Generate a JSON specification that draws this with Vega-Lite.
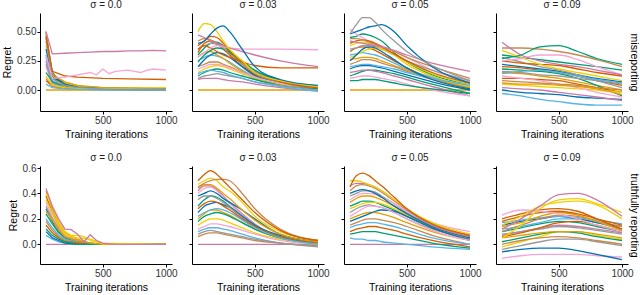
{
"$schema":"https://vega.github.io/schema/vega-lite/v6.json",
"padding":{"left":2,"top":0,"right":1,"bottom":2},
"config":{"font":"Liberation Sans","view":{"stroke":null},
"axis":{"grid":false,"domainColor":"#000","domainWidth":1,"tickColor":"#000","tickSize":3,"labelFontSize":10,"labelColor":"#333","titleFontSize":10.5,"titleFontWeight":"normal","titleColor":"#000","labelPadding":1,"titlePadding":4,"labelFlush":false},
"title":{"fontSize":10,"fontWeight":"normal","offset":3,"color":"#222"},
"line":{"strokeWidth":1.3}},
"datasets":{
"A":[
{"s":18,"x":50,"y":0},{"s":18,"x":500,"y":0},{"s":18,"x":1000,"y":0},
{"s":1,"x":50,"y":0.5},{"s":1,"x":100,"y":0.13},{"s":1,"x":150,"y":0.08},{"s":1,"x":200,"y":0.05},{"s":1,"x":300,"y":0.03},{"s":1,"x":500,"y":0.02},{"s":1,"x":1000,"y":0.01},
{"s":2,"x":50,"y":0.45},{"s":2,"x":100,"y":0.15},{"s":2,"x":150,"y":0.09},{"s":2,"x":200,"y":0.06},{"s":2,"x":300,"y":0.03},{"s":2,"x":500,"y":0.015},{"s":2,"x":1000,"y":0.01},
{"s":3,"x":50,"y":0.3},{"s":3,"x":100,"y":0.1},{"s":3,"x":150,"y":0.07},{"s":3,"x":200,"y":0.05},{"s":3,"x":300,"y":0.03},{"s":3,"x":500,"y":0.01},{"s":3,"x":1000,"y":0.005},
{"s":4,"x":50,"y":0.38},{"s":4,"x":100,"y":0.12},{"s":4,"x":150,"y":0.07},{"s":4,"x":200,"y":0.06},{"s":4,"x":300,"y":0.03},{"s":4,"x":500,"y":0.015},{"s":4,"x":1000,"y":0.01},
{"s":5,"x":50,"y":0.25},{"s":5,"x":100,"y":0.06},{"s":5,"x":150,"y":0.04},{"s":5,"x":200,"y":0.02},{"s":5,"x":300,"y":0.01},{"s":5,"x":500,"y":0.005},{"s":5,"x":1000,"y":0},
{"s":6,"x":50,"y":0.2},{"s":6,"x":100,"y":0.05},{"s":6,"x":150,"y":0.03},{"s":6,"x":200,"y":0.02},{"s":6,"x":300,"y":0.01},{"s":6,"x":500,"y":0.005},{"s":6,"x":1000,"y":0},
{"s":7,"x":50,"y":0.28},{"s":7,"x":100,"y":0.08},{"s":7,"x":150,"y":0.05},{"s":7,"x":200,"y":0.03},{"s":7,"x":300,"y":0.02},{"s":7,"x":500,"y":0.01},{"s":7,"x":1000,"y":0.005},
{"s":8,"x":50,"y":0.48},{"s":8,"x":100,"y":0.14},{"s":8,"x":150,"y":0.1},{"s":8,"x":200,"y":0.07},{"s":8,"x":300,"y":0.04},{"s":8,"x":500,"y":0.02},{"s":8,"x":1000,"y":0.015},
{"s":9,"x":50,"y":0.22},{"s":9,"x":100,"y":0.06},{"s":9,"x":150,"y":0.04},{"s":9,"x":200,"y":0.03},{"s":9,"x":300,"y":0.02},{"s":9,"x":500,"y":0.01},{"s":9,"x":1000,"y":0.005},
{"s":10,"x":50,"y":0.1},{"s":10,"x":100,"y":0.03},{"s":10,"x":150,"y":0.02},{"s":10,"x":200,"y":0.015},{"s":10,"x":300,"y":0.01},{"s":10,"x":500,"y":0.005},{"s":10,"x":1000,"y":0},
{"s":11,"x":50,"y":0.08},{"s":11,"x":100,"y":0.035},{"s":11,"x":150,"y":0.025},{"s":11,"x":200,"y":0.02},{"s":11,"x":300,"y":0.01},{"s":11,"x":500,"y":0.005},{"s":11,"x":1000,"y":0},
{"s":12,"x":50,"y":0.35},{"s":12,"x":100,"y":0.11},{"s":12,"x":150,"y":0.08},{"s":12,"x":200,"y":0.05},{"s":12,"x":300,"y":0.025},{"s":12,"x":500,"y":0.01},{"s":12,"x":1000,"y":0.005},
{"s":13,"x":50,"y":0.15},{"s":13,"x":100,"y":0.07},{"s":13,"x":150,"y":0.05},{"s":13,"x":200,"y":0.04},{"s":13,"x":300,"y":0.02},{"s":13,"x":500,"y":0.01},{"s":13,"x":1000,"y":0.005},
{"s":14,"x":50,"y":0.12},{"s":14,"x":100,"y":0.04},{"s":14,"x":150,"y":0.03},{"s":14,"x":200,"y":0.02},{"s":14,"x":300,"y":0.015},{"s":14,"x":500,"y":0.01},{"s":14,"x":1000,"y":0.02},
{"s":17,"x":50,"y":0.05},{"s":17,"x":100,"y":0.02},{"s":17,"x":150,"y":0.015},{"s":17,"x":200,"y":0.01},{"s":17,"x":300,"y":0.005},{"s":17,"x":500,"y":0},{"s":17,"x":1000,"y":0},
{"s":19,"x":50,"y":0.42},{"s":19,"x":100,"y":0.1},{"s":19,"x":150,"y":0.06},{"s":19,"x":200,"y":0.04},{"s":19,"x":300,"y":0.02},{"s":19,"x":500,"y":0.01},{"s":19,"x":1000,"y":0.008},
{"s":21,"x":50,"y":0.46},{"s":21,"x":100,"y":0.16},{"s":21,"x":150,"y":0.14},{"s":21,"x":200,"y":0.12},{"s":21,"x":300,"y":0.11},{"s":21,"x":500,"y":0.1},{"s":21,"x":700,"y":0.095},{"s":21,"x":1000,"y":0.09},
{"s":16,"x":50,"y":0.3},{"s":16,"x":100,"y":0.1},{"s":16,"x":200,"y":0.11},{"s":16,"x":300,"y":0.13},{"s":16,"x":400,"y":0.15},{"s":16,"x":450,"y":0.13},{"s":16,"x":500,"y":0.18},{"s":16,"x":550,"y":0.14},{"s":16,"x":600,"y":0.16},{"s":16,"x":700,"y":0.17},{"s":16,"x":750,"y":0.16},{"s":16,"x":800,"y":0.15},{"s":16,"x":850,"y":0.17},{"s":16,"x":900,"y":0.18},{"s":16,"x":1000,"y":0.17},
{"s":15,"x":50,"y":0.5},{"s":15,"x":100,"y":0.31},{"s":15,"x":200,"y":0.315},{"s":15,"x":300,"y":0.32},{"s":15,"x":400,"y":0.325},{"s":15,"x":500,"y":0.33},{"s":15,"x":600,"y":0.33},{"s":15,"x":700,"y":0.335},{"s":15,"x":800,"y":0.335},{"s":15,"x":900,"y":0.34},{"s":15,"x":1000,"y":0.335}
],
"B":[
{"s":18,"x":50,"y":0},{"s":18,"x":500,"y":0},{"s":18,"x":1000,"y":0},
{"s":3,"x":50,"y":0.3},{"s":3,"x":100,"y":0.36},{"s":3,"x":150,"y":0.4},{"s":3,"x":200,"y":0.41},{"s":3,"x":250,"y":0.38},{"s":3,"x":300,"y":0.33},{"s":3,"x":400,"y":0.22},{"s":3,"x":500,"y":0.13},{"s":3,"x":700,"y":0.06},{"s":3,"x":1000,"y":0.02},
{"s":9,"x":50,"y":0.35},{"s":9,"x":100,"y":0.38},{"s":9,"x":150,"y":0.4},{"s":9,"x":200,"y":0.39},{"s":9,"x":250,"y":0.36},{"s":9,"x":300,"y":0.32},{"s":9,"x":400,"y":0.24},{"s":9,"x":500,"y":0.16},{"s":9,"x":700,"y":0.08},{"s":9,"x":1000,"y":0.03},
{"s":11,"x":50,"y":0.32},{"s":11,"x":100,"y":0.4},{"s":11,"x":150,"y":0.42},{"s":11,"x":200,"y":0.4},{"s":11,"x":250,"y":0.35},{"s":11,"x":300,"y":0.3},{"s":11,"x":400,"y":0.2},{"s":11,"x":500,"y":0.12},{"s":11,"x":700,"y":0.05},{"s":11,"x":1000,"y":0.01},
{"s":7,"x":50,"y":0.25},{"s":7,"x":100,"y":0.28},{"s":7,"x":150,"y":0.3},{"s":7,"x":200,"y":0.29},{"s":7,"x":250,"y":0.27},{"s":7,"x":300,"y":0.24},{"s":7,"x":400,"y":0.17},{"s":7,"x":500,"y":0.11},{"s":7,"x":700,"y":0.05},{"s":7,"x":1000,"y":0.01},
{"s":8,"x":50,"y":0.28},{"s":8,"x":100,"y":0.32},{"s":8,"x":150,"y":0.33},{"s":8,"x":200,"y":0.3},{"s":8,"x":250,"y":0.27},{"s":8,"x":300,"y":0.23},{"s":8,"x":400,"y":0.16},{"s":8,"x":500,"y":0.1},{"s":8,"x":700,"y":0.05},{"s":8,"x":1000,"y":0},
{"s":10,"x":50,"y":0.2},{"s":10,"x":100,"y":0.22},{"s":10,"x":150,"y":0.24},{"s":10,"x":200,"y":0.24},{"s":10,"x":250,"y":0.22},{"s":10,"x":300,"y":0.2},{"s":10,"x":400,"y":0.15},{"s":10,"x":500,"y":0.1},{"s":10,"x":700,"y":0.05},{"s":10,"x":1000,"y":0.01},
{"s":12,"x":50,"y":0.2},{"s":12,"x":100,"y":0.26},{"s":12,"x":150,"y":0.3},{"s":12,"x":200,"y":0.32},{"s":12,"x":250,"y":0.31},{"s":12,"x":300,"y":0.28},{"s":12,"x":400,"y":0.2},{"s":12,"x":500,"y":0.13},{"s":12,"x":700,"y":0.06},{"s":12,"x":1000,"y":0.02},
{"s":14,"x":50,"y":0.15},{"s":14,"x":100,"y":0.18},{"s":14,"x":150,"y":0.2},{"s":14,"x":200,"y":0.21},{"s":14,"x":250,"y":0.2},{"s":14,"x":300,"y":0.18},{"s":14,"x":400,"y":0.14},{"s":14,"x":500,"y":0.1},{"s":14,"x":700,"y":0.05},{"s":14,"x":1000,"y":0},
{"s":16,"x":50,"y":0.18},{"s":16,"x":100,"y":0.2},{"s":16,"x":150,"y":0.22},{"s":16,"x":200,"y":0.22},{"s":16,"x":250,"y":0.21},{"s":16,"x":300,"y":0.19},{"s":16,"x":400,"y":0.15},{"s":16,"x":500,"y":0.11},{"s":16,"x":700,"y":0.06},{"s":16,"x":1000,"y":0.02},
{"s":13,"x":50,"y":0.12},{"s":13,"x":100,"y":0.15},{"s":13,"x":150,"y":0.17},{"s":13,"x":200,"y":0.18},{"s":13,"x":250,"y":0.17},{"s":13,"x":300,"y":0.15},{"s":13,"x":400,"y":0.12},{"s":13,"x":500,"y":0.09},{"s":13,"x":700,"y":0.04},{"s":13,"x":1000,"y":0.01},
{"s":19,"x":50,"y":0.1},{"s":19,"x":100,"y":0.12},{"s":19,"x":150,"y":0.13},{"s":19,"x":200,"y":0.14},{"s":19,"x":250,"y":0.13},{"s":19,"x":300,"y":0.12},{"s":19,"x":400,"y":0.1},{"s":19,"x":500,"y":0.07},{"s":19,"x":700,"y":0.04},{"s":19,"x":1000,"y":0},
{"s":15,"x":50,"y":0.09},{"s":15,"x":100,"y":0.1},{"s":15,"x":150,"y":0.1},{"s":15,"x":200,"y":0.1},{"s":15,"x":250,"y":0.09},{"s":15,"x":300,"y":0.08},{"s":15,"x":400,"y":0.07},{"s":15,"x":500,"y":0.05},{"s":15,"x":700,"y":0.02},{"s":15,"x":1000,"y":-0.01},
{"s":17,"x":50,"y":0.14},{"s":17,"x":100,"y":0.16},{"s":17,"x":150,"y":0.17},{"s":17,"x":200,"y":0.16},{"s":17,"x":250,"y":0.15},{"s":17,"x":300,"y":0.13},{"s":17,"x":400,"y":0.1},{"s":17,"x":500,"y":0.07},{"s":17,"x":700,"y":0.03},{"s":17,"x":1000,"y":-0.01},
{"s":23,"x":50,"y":0.24},{"s":23,"x":100,"y":0.3},{"s":23,"x":150,"y":0.34},{"s":23,"x":200,"y":0.36},{"s":23,"x":250,"y":0.35},{"s":23,"x":300,"y":0.32},{"s":23,"x":400,"y":0.25},{"s":23,"x":500,"y":0.17},{"s":23,"x":700,"y":0.08},{"s":23,"x":1000,"y":0.03},
{"s":20,"x":50,"y":0.42},{"s":20,"x":100,"y":0.44},{"s":20,"x":150,"y":0.43},{"s":20,"x":200,"y":0.4},{"s":20,"x":250,"y":0.36},{"s":20,"x":300,"y":0.31},{"s":20,"x":400,"y":0.22},{"s":20,"x":500,"y":0.14},{"s":20,"x":700,"y":0.07},{"s":20,"x":1000,"y":0.02},
{"s":21,"x":50,"y":0.38},{"s":21,"x":100,"y":0.42},{"s":21,"x":150,"y":0.46},{"s":21,"x":200,"y":0.45},{"s":21,"x":250,"y":0.4},{"s":21,"x":300,"y":0.34},{"s":21,"x":400,"y":0.24},{"s":21,"x":500,"y":0.15},{"s":21,"x":700,"y":0.07},{"s":21,"x":1000,"y":0.02},
{"s":1,"x":50,"y":0.35},{"s":1,"x":100,"y":0.38},{"s":1,"x":150,"y":0.36},{"s":1,"x":200,"y":0.33},{"s":1,"x":250,"y":0.3},{"s":1,"x":300,"y":0.28},{"s":1,"x":400,"y":0.24},{"s":1,"x":500,"y":0.21},{"s":1,"x":700,"y":0.19},{"s":1,"x":1000,"y":0.19},
{"s":6,"x":50,"y":0.28},{"s":6,"x":100,"y":0.32},{"s":6,"x":150,"y":0.36},{"s":6,"x":200,"y":0.38},{"s":6,"x":250,"y":0.37},{"s":6,"x":300,"y":0.36},{"s":6,"x":400,"y":0.35},{"s":6,"x":500,"y":0.35},{"s":6,"x":700,"y":0.35},{"s":6,"x":1000,"y":0.345},
{"s":5,"x":50,"y":0.47},{"s":5,"x":100,"y":0.45},{"s":5,"x":150,"y":0.42},{"s":5,"x":200,"y":0.4},{"s":5,"x":250,"y":0.38},{"s":5,"x":300,"y":0.36},{"s":5,"x":400,"y":0.33},{"s":5,"x":500,"y":0.3},{"s":5,"x":700,"y":0.25},{"s":5,"x":1000,"y":0.2},
{"s":4,"x":50,"y":0.5},{"s":4,"x":100,"y":0.57},{"s":4,"x":150,"y":0.56},{"s":4,"x":200,"y":0.5},{"s":4,"x":250,"y":0.42},{"s":4,"x":300,"y":0.35},{"s":4,"x":400,"y":0.25},{"s":4,"x":500,"y":0.15},{"s":4,"x":700,"y":0.08},{"s":4,"x":1000,"y":0.03},
{"s":2,"x":50,"y":0.4},{"s":2,"x":100,"y":0.42},{"s":2,"x":150,"y":0.48},{"s":2,"x":200,"y":0.53},{"s":2,"x":250,"y":0.55},{"s":2,"x":300,"y":0.5},{"s":2,"x":400,"y":0.35},{"s":2,"x":500,"y":0.2},{"s":2,"x":700,"y":0.09},{"s":2,"x":1000,"y":0.04}
],
"C":[
{"s":18,"x":50,"y":0},{"s":18,"x":500,"y":0},{"s":18,"x":1000,"y":0},
{"s":3,"x":50,"y":0.45},{"s":3,"x":100,"y":0.46},{"s":3,"x":150,"y":0.48},{"s":3,"x":200,"y":0.47},{"s":3,"x":250,"y":0.45},{"s":3,"x":300,"y":0.42},{"s":3,"x":400,"y":0.32},{"s":3,"x":500,"y":0.24},{"s":3,"x":700,"y":0.13},{"s":3,"x":1000,"y":0.05},
{"s":6,"x":50,"y":0.52},{"s":6,"x":100,"y":0.48},{"s":6,"x":150,"y":0.45},{"s":6,"x":200,"y":0.42},{"s":6,"x":250,"y":0.4},{"s":6,"x":300,"y":0.38},{"s":6,"x":400,"y":0.33},{"s":6,"x":500,"y":0.28},{"s":6,"x":700,"y":0.17},{"s":6,"x":1000,"y":0.07},
{"s":4,"x":50,"y":0.38},{"s":4,"x":100,"y":0.4},{"s":4,"x":150,"y":0.41},{"s":4,"x":200,"y":0.4},{"s":4,"x":250,"y":0.38},{"s":4,"x":300,"y":0.36},{"s":4,"x":400,"y":0.3},{"s":4,"x":500,"y":0.24},{"s":4,"x":700,"y":0.14},{"s":4,"x":1000,"y":0.05},
{"s":1,"x":50,"y":0.33},{"s":1,"x":100,"y":0.36},{"s":1,"x":150,"y":0.37},{"s":1,"x":200,"y":0.36},{"s":1,"x":250,"y":0.34},{"s":1,"x":300,"y":0.31},{"s":1,"x":400,"y":0.25},{"s":1,"x":500,"y":0.19},{"s":1,"x":700,"y":0.1},{"s":1,"x":1000,"y":0.02},
{"s":7,"x":50,"y":0.3},{"s":7,"x":100,"y":0.31},{"s":7,"x":150,"y":0.32},{"s":7,"x":200,"y":0.31},{"s":7,"x":250,"y":0.3},{"s":7,"x":300,"y":0.28},{"s":7,"x":400,"y":0.23},{"s":7,"x":500,"y":0.18},{"s":7,"x":700,"y":0.11},{"s":7,"x":1000,"y":0.03},
{"s":8,"x":50,"y":0.26},{"s":8,"x":100,"y":0.27},{"s":8,"x":150,"y":0.28},{"s":8,"x":200,"y":0.28},{"s":8,"x":250,"y":0.27},{"s":8,"x":300,"y":0.25},{"s":8,"x":400,"y":0.21},{"s":8,"x":500,"y":0.17},{"s":8,"x":700,"y":0.1},{"s":8,"x":1000,"y":0.02},
{"s":10,"x":50,"y":0.22},{"s":10,"x":100,"y":0.24},{"s":10,"x":150,"y":0.26},{"s":10,"x":200,"y":0.26},{"s":10,"x":250,"y":0.25},{"s":10,"x":300,"y":0.23},{"s":10,"x":400,"y":0.2},{"s":10,"x":500,"y":0.16},{"s":10,"x":700,"y":0.09},{"s":10,"x":1000,"y":0},
{"s":12,"x":50,"y":0.18},{"s":12,"x":100,"y":0.2},{"s":12,"x":150,"y":0.21},{"s":12,"x":200,"y":0.21},{"s":12,"x":250,"y":0.2},{"s":12,"x":300,"y":0.19},{"s":12,"x":400,"y":0.16},{"s":12,"x":500,"y":0.13},{"s":12,"x":700,"y":0.07},{"s":12,"x":1000,"y":0},
{"s":13,"x":50,"y":0.12},{"s":13,"x":100,"y":0.14},{"s":13,"x":150,"y":0.16},{"s":13,"x":200,"y":0.17},{"s":13,"x":250,"y":0.17},{"s":13,"x":300,"y":0.16},{"s":13,"x":400,"y":0.14},{"s":13,"x":500,"y":0.11},{"s":13,"x":700,"y":0.05},{"s":13,"x":1000,"y":-0.03},
{"s":19,"x":50,"y":0.35},{"s":19,"x":100,"y":0.36},{"s":19,"x":150,"y":0.38},{"s":19,"x":200,"y":0.38},{"s":19,"x":250,"y":0.37},{"s":19,"x":300,"y":0.35},{"s":19,"x":400,"y":0.3},{"s":19,"x":500,"y":0.25},{"s":19,"x":700,"y":0.17},{"s":19,"x":1000,"y":0.08},
{"s":15,"x":50,"y":0.15},{"s":15,"x":100,"y":0.16},{"s":15,"x":150,"y":0.17},{"s":15,"x":200,"y":0.17},{"s":15,"x":250,"y":0.16},{"s":15,"x":300,"y":0.15},{"s":15,"x":400,"y":0.12},{"s":15,"x":500,"y":0.09},{"s":15,"x":700,"y":0.03},{"s":15,"x":1000,"y":-0.05},
{"s":16,"x":50,"y":0.1},{"s":16,"x":100,"y":0.11},{"s":16,"x":150,"y":0.12},{"s":16,"x":200,"y":0.12},{"s":16,"x":250,"y":0.11},{"s":16,"x":300,"y":0.1},{"s":16,"x":400,"y":0.08},{"s":16,"x":500,"y":0.05},{"s":16,"x":700,"y":0},{"s":16,"x":1000,"y":-0.05},
{"s":14,"x":50,"y":0.28},{"s":14,"x":100,"y":0.3},{"s":14,"x":150,"y":0.33},{"s":14,"x":200,"y":0.35},{"s":14,"x":250,"y":0.36},{"s":14,"x":300,"y":0.35},{"s":14,"x":400,"y":0.3},{"s":14,"x":500,"y":0.22},{"s":14,"x":700,"y":0.12},{"s":14,"x":1000,"y":0.03},
{"s":11,"x":50,"y":0.4},{"s":11,"x":100,"y":0.42},{"s":11,"x":150,"y":0.43},{"s":11,"x":200,"y":0.42},{"s":11,"x":250,"y":0.4},{"s":11,"x":300,"y":0.37},{"s":11,"x":400,"y":0.31},{"s":11,"x":500,"y":0.25},{"s":11,"x":700,"y":0.15},{"s":11,"x":1000,"y":0.06},
{"s":17,"x":50,"y":0.2},{"s":17,"x":100,"y":0.21},{"s":17,"x":150,"y":0.22},{"s":17,"x":200,"y":0.22},{"s":17,"x":250,"y":0.21},{"s":17,"x":300,"y":0.2},{"s":17,"x":400,"y":0.18},{"s":17,"x":500,"y":0.15},{"s":17,"x":700,"y":0.1},{"s":17,"x":1000,"y":0.04},
{"s":23,"x":50,"y":0.08},{"s":23,"x":100,"y":0.08},{"s":23,"x":150,"y":0.09},{"s":23,"x":200,"y":0.09},{"s":23,"x":250,"y":0.09},{"s":23,"x":300,"y":0.08},{"s":23,"x":400,"y":0.06},{"s":23,"x":500,"y":0.04},{"s":23,"x":700,"y":0.01},{"s":23,"x":1000,"y":-0.03},
{"s":22,"x":50,"y":0.25},{"s":22,"x":100,"y":0.3},{"s":22,"x":150,"y":0.35},{"s":22,"x":200,"y":0.37},{"s":22,"x":250,"y":0.36},{"s":22,"x":300,"y":0.33},{"s":22,"x":400,"y":0.26},{"s":22,"x":500,"y":0.19},{"s":22,"x":700,"y":0.09},{"s":22,"x":1000,"y":0.01},
{"s":20,"x":50,"y":0.44},{"s":20,"x":100,"y":0.44},{"s":20,"x":150,"y":0.43},{"s":20,"x":200,"y":0.41},{"s":20,"x":250,"y":0.39},{"s":20,"x":300,"y":0.37},{"s":20,"x":400,"y":0.33},{"s":20,"x":500,"y":0.28},{"s":20,"x":700,"y":0.2},{"s":20,"x":1000,"y":0.1},
{"s":5,"x":50,"y":0.42},{"s":5,"x":100,"y":0.41},{"s":5,"x":150,"y":0.4},{"s":5,"x":200,"y":0.39},{"s":5,"x":250,"y":0.38},{"s":5,"x":300,"y":0.37},{"s":5,"x":400,"y":0.34},{"s":5,"x":500,"y":0.3},{"s":5,"x":700,"y":0.23},{"s":5,"x":1000,"y":0.16},
{"s":2,"x":50,"y":0.48},{"s":2,"x":100,"y":0.5},{"s":2,"x":150,"y":0.52},{"s":2,"x":200,"y":0.54},{"s":2,"x":250,"y":0.55},{"s":2,"x":300,"y":0.56},{"s":2,"x":400,"y":0.5},{"s":2,"x":500,"y":0.38},{"s":2,"x":700,"y":0.2},{"s":2,"x":1000,"y":0.06},
{"s":9,"x":50,"y":0.48},{"s":9,"x":100,"y":0.56},{"s":9,"x":150,"y":0.62},{"s":9,"x":200,"y":0.62},{"s":9,"x":250,"y":0.58},{"s":9,"x":300,"y":0.52},{"s":9,"x":400,"y":0.42},{"s":9,"x":500,"y":0.33},{"s":9,"x":700,"y":0.21},{"s":9,"x":1000,"y":0.08}
],
"D":[
{"s":7,"x":50,"y":-0.03},{"s":7,"x":200,"y":-0.05},{"s":7,"x":350,"y":-0.08},{"s":7,"x":500,"y":-0.1},{"s":7,"x":650,"y":-0.12},{"s":7,"x":800,"y":-0.13},{"s":7,"x":1000,"y":-0.13},
{"s":2,"x":50,"y":0.22},{"s":2,"x":200,"y":0.2},{"s":2,"x":350,"y":0.18},{"s":2,"x":500,"y":0.16},{"s":2,"x":650,"y":0.13},{"s":2,"x":800,"y":0.1},{"s":2,"x":1000,"y":0.07},
{"s":1,"x":50,"y":0.2},{"s":1,"x":200,"y":0.19},{"s":1,"x":350,"y":0.17},{"s":1,"x":500,"y":0.15},{"s":1,"x":650,"y":0.12},{"s":1,"x":800,"y":0.08},{"s":1,"x":1000,"y":0.04},
{"s":9,"x":50,"y":0.28},{"s":9,"x":200,"y":0.24},{"s":9,"x":350,"y":0.2},{"s":9,"x":500,"y":0.17},{"s":9,"x":650,"y":0.13},{"s":9,"x":800,"y":0.08},{"s":9,"x":1000,"y":0.02},
{"s":8,"x":50,"y":0.15},{"s":8,"x":200,"y":0.14},{"s":8,"x":350,"y":0.12},{"s":8,"x":500,"y":0.1},{"s":8,"x":650,"y":0.07},{"s":8,"x":800,"y":0.04},{"s":8,"x":1000,"y":0},
{"s":13,"x":50,"y":0.18},{"s":13,"x":200,"y":0.17},{"s":13,"x":350,"y":0.16},{"s":13,"x":500,"y":0.14},{"s":13,"x":650,"y":0.1},{"s":13,"x":800,"y":0.04},{"s":13,"x":1000,"y":-0.05},
{"s":12,"x":50,"y":0},{"s":12,"x":200,"y":-0.02},{"s":12,"x":350,"y":-0.03},{"s":12,"x":500,"y":-0.04},{"s":12,"x":650,"y":-0.06},{"s":12,"x":800,"y":-0.07},{"s":12,"x":1000,"y":-0.08},
{"s":11,"x":50,"y":0.1},{"s":11,"x":200,"y":0.1},{"s":11,"x":350,"y":0.09},{"s":11,"x":500,"y":0.08},{"s":11,"x":650,"y":0.05},{"s":11,"x":800,"y":0.02},{"s":11,"x":1000,"y":-0.02},
{"s":14,"x":50,"y":0.05},{"s":14,"x":200,"y":0.04},{"s":14,"x":350,"y":0.03},{"s":14,"x":500,"y":0.02},{"s":14,"x":650,"y":0.01},{"s":14,"x":800,"y":0},{"s":14,"x":1000,"y":-0.02},
{"s":16,"x":50,"y":0.12},{"s":16,"x":200,"y":0.1},{"s":16,"x":350,"y":0.08},{"s":16,"x":500,"y":0.05},{"s":16,"x":650,"y":0.02},{"s":16,"x":800,"y":-0.02},{"s":16,"x":1000,"y":-0.06},
{"s":20,"x":50,"y":0.08},{"s":20,"x":200,"y":0.07},{"s":20,"x":350,"y":0.06},{"s":20,"x":500,"y":0.05},{"s":20,"x":650,"y":0.04},{"s":20,"x":800,"y":0.02},{"s":20,"x":1000,"y":0},
{"s":17,"x":50,"y":0.14},{"s":17,"x":200,"y":0.16},{"s":17,"x":350,"y":0.17},{"s":17,"x":500,"y":0.15},{"s":17,"x":650,"y":0.12},{"s":17,"x":800,"y":0.09},{"s":17,"x":1000,"y":0.06},
{"s":15,"x":50,"y":0.02},{"s":15,"x":200,"y":0.01},{"s":15,"x":350,"y":0},{"s":15,"x":500,"y":-0.02},{"s":15,"x":650,"y":-0.04},{"s":15,"x":800,"y":-0.06},{"s":15,"x":1000,"y":-0.09},
{"s":19,"x":50,"y":0.16},{"s":19,"x":200,"y":0.15},{"s":19,"x":350,"y":0.13},{"s":19,"x":500,"y":0.12},{"s":19,"x":650,"y":0.1},{"s":19,"x":800,"y":0.08},{"s":19,"x":1000,"y":0.05},
{"s":23,"x":50,"y":0.3},{"s":23,"x":200,"y":0.28},{"s":23,"x":350,"y":0.26},{"s":23,"x":500,"y":0.24},{"s":23,"x":650,"y":0.22},{"s":23,"x":800,"y":0.2},{"s":23,"x":1000,"y":0.17},
{"s":21,"x":50,"y":0.25},{"s":21,"x":200,"y":0.23},{"s":21,"x":350,"y":0.22},{"s":21,"x":500,"y":0.21},{"s":21,"x":650,"y":0.18},{"s":21,"x":800,"y":0.15},{"s":21,"x":1000,"y":0.12},
{"s":18,"x":50,"y":0.06},{"s":18,"x":200,"y":0.05},{"s":18,"x":350,"y":0.05},{"s":18,"x":500,"y":0.04},{"s":18,"x":650,"y":0.03},{"s":18,"x":800,"y":0.01},{"s":18,"x":1000,"y":-0.04},
{"s":4,"x":50,"y":0.34},{"s":4,"x":200,"y":0.28},{"s":4,"x":350,"y":0.22},{"s":4,"x":500,"y":0.18},{"s":4,"x":650,"y":0.15},{"s":4,"x":800,"y":0.12},{"s":4,"x":1000,"y":0.08},
{"s":6,"x":50,"y":0.25},{"s":6,"x":200,"y":0.27},{"s":6,"x":350,"y":0.3},{"s":6,"x":500,"y":0.3},{"s":6,"x":650,"y":0.26},{"s":6,"x":800,"y":0.2},{"s":6,"x":1000,"y":0.13},
{"s":10,"x":50,"y":0.36},{"s":10,"x":200,"y":0.36},{"s":10,"x":350,"y":0.35},{"s":10,"x":500,"y":0.33},{"s":10,"x":650,"y":0.3},{"s":10,"x":800,"y":0.26},{"s":10,"x":1000,"y":0.2},
{"s":5,"x":50,"y":0.41},{"s":5,"x":200,"y":0.3},{"s":5,"x":350,"y":0.25},{"s":5,"x":500,"y":0.22},{"s":5,"x":650,"y":0.2},{"s":5,"x":800,"y":0.17},{"s":5,"x":1000,"y":0.13},
{"s":3,"x":50,"y":0.27},{"s":3,"x":200,"y":0.3},{"s":3,"x":350,"y":0.37},{"s":3,"x":500,"y":0.38},{"s":3,"x":650,"y":0.33},{"s":3,"x":800,"y":0.27},{"s":3,"x":1000,"y":0.22}
],
"E":[
{"s":15,"x":50,"y":0},{"s":15,"x":500,"y":0},{"s":15,"x":1000,"y":0},
{"s":1,"x":50,"y":0.38},{"s":1,"x":100,"y":0.25},{"s":1,"x":150,"y":0.14},{"s":1,"x":200,"y":0.07},{"s":1,"x":300,"y":0.03},{"s":1,"x":400,"y":0.01},{"s":1,"x":500,"y":0},{"s":1,"x":1000,"y":0},
{"s":8,"x":50,"y":0.42},{"s":8,"x":100,"y":0.28},{"s":8,"x":150,"y":0.16},{"s":8,"x":200,"y":0.09},{"s":8,"x":300,"y":0.04},{"s":8,"x":400,"y":0.01},{"s":8,"x":500,"y":0},{"s":8,"x":1000,"y":0},
{"s":6,"x":50,"y":0.33},{"s":6,"x":100,"y":0.22},{"s":6,"x":150,"y":0.13},{"s":6,"x":200,"y":0.07},{"s":6,"x":300,"y":0.03},{"s":6,"x":400,"y":0.01},{"s":6,"x":500,"y":0},{"s":6,"x":1000,"y":0},
{"s":2,"x":50,"y":0.28},{"s":2,"x":100,"y":0.18},{"s":2,"x":150,"y":0.1},{"s":2,"x":200,"y":0.05},{"s":2,"x":300,"y":0.02},{"s":2,"x":400,"y":0},{"s":2,"x":500,"y":0},{"s":2,"x":1000,"y":0},
{"s":3,"x":50,"y":0.24},{"s":3,"x":100,"y":0.16},{"s":3,"x":150,"y":0.09},{"s":3,"x":200,"y":0.05},{"s":3,"x":300,"y":0.02},{"s":3,"x":400,"y":0.01},{"s":3,"x":500,"y":0},{"s":3,"x":1000,"y":0},
{"s":7,"x":50,"y":0.2},{"s":7,"x":100,"y":0.13},{"s":7,"x":150,"y":0.07},{"s":7,"x":200,"y":0.04},{"s":7,"x":300,"y":0.01},{"s":7,"x":400,"y":0},{"s":7,"x":500,"y":0},{"s":7,"x":1000,"y":0},
{"s":9,"x":50,"y":0.3},{"s":9,"x":100,"y":0.2},{"s":9,"x":150,"y":0.12},{"s":9,"x":200,"y":0.06},{"s":9,"x":300,"y":0.02},{"s":9,"x":400,"y":0},{"s":9,"x":500,"y":0},{"s":9,"x":1000,"y":0},
{"s":10,"x":50,"y":0.18},{"s":10,"x":100,"y":0.11},{"s":10,"x":150,"y":0.06},{"s":10,"x":200,"y":0.03},{"s":10,"x":300,"y":0.01},{"s":10,"x":400,"y":0},{"s":10,"x":500,"y":0},{"s":10,"x":1000,"y":0},
{"s":17,"x":50,"y":0.07},{"s":17,"x":100,"y":0.04},{"s":17,"x":150,"y":0.02},{"s":17,"x":200,"y":0.01},{"s":17,"x":300,"y":0},{"s":17,"x":400,"y":0},{"s":17,"x":500,"y":0},{"s":17,"x":1000,"y":0},
{"s":12,"x":50,"y":0.1},{"s":12,"x":100,"y":0.05},{"s":12,"x":150,"y":0.03},{"s":12,"x":200,"y":0.01},{"s":12,"x":300,"y":0},{"s":12,"x":400,"y":0},{"s":12,"x":500,"y":0},{"s":12,"x":1000,"y":0},
{"s":11,"x":50,"y":0.15},{"s":11,"x":100,"y":0.09},{"s":11,"x":150,"y":0.05},{"s":11,"x":200,"y":0.02},{"s":11,"x":300,"y":0.01},{"s":11,"x":400,"y":0},{"s":11,"x":500,"y":0},{"s":11,"x":1000,"y":0},
{"s":13,"x":50,"y":0.12},{"s":13,"x":100,"y":0.07},{"s":13,"x":150,"y":0.04},{"s":13,"x":200,"y":0.02},{"s":13,"x":300,"y":0},{"s":13,"x":400,"y":0},{"s":13,"x":500,"y":0},{"s":13,"x":1000,"y":0},
{"s":18,"x":50,"y":0.26},{"s":18,"x":100,"y":0.19},{"s":18,"x":150,"y":0.11},{"s":18,"x":200,"y":0.06},{"s":18,"x":300,"y":0.03},{"s":18,"x":400,"y":0.01},{"s":18,"x":500,"y":0},{"s":18,"x":1000,"y":0},
{"s":14,"x":50,"y":0.35},{"s":14,"x":100,"y":0.25},{"s":14,"x":150,"y":0.15},{"s":14,"x":200,"y":0.08},{"s":14,"x":250,"y":0.06},{"s":14,"x":300,"y":0.05},{"s":14,"x":400,"y":0.04},{"s":14,"x":500,"y":0.01},{"s":14,"x":1000,"y":0},
{"s":4,"x":50,"y":0.4},{"s":4,"x":100,"y":0.3},{"s":4,"x":150,"y":0.18},{"s":4,"x":200,"y":0.1},{"s":4,"x":250,"y":0.07},{"s":4,"x":300,"y":0.07},{"s":4,"x":350,"y":0.06},{"s":4,"x":400,"y":0.03},{"s":4,"x":500,"y":0.005},{"s":4,"x":1000,"y":0},
{"s":5,"x":50,"y":0.44},{"s":5,"x":100,"y":0.3},{"s":5,"x":150,"y":0.2},{"s":5,"x":200,"y":0.12},{"s":5,"x":250,"y":0.115},{"s":5,"x":300,"y":0.08},{"s":5,"x":350,"y":0.02},{"s":5,"x":400,"y":0.075},{"s":5,"x":450,"y":0.03},{"s":5,"x":500,"y":0.01},{"s":5,"x":600,"y":0},{"s":5,"x":1000,"y":0}
],
"F":[
{"s":15,"x":50,"y":0},{"s":15,"x":500,"y":0},{"s":15,"x":1000,"y":0},
{"s":5,"x":50,"y":0.42},{"s":5,"x":100,"y":0.46},{"s":5,"x":150,"y":0.46},{"s":5,"x":200,"y":0.43},{"s":5,"x":250,"y":0.38},{"s":5,"x":300,"y":0.33},{"s":5,"x":400,"y":0.24},{"s":5,"x":500,"y":0.16},{"s":5,"x":700,"y":0.06},{"s":5,"x":1000,"y":0.02},
{"s":6,"x":50,"y":0.4},{"s":6,"x":100,"y":0.44},{"s":6,"x":150,"y":0.45},{"s":6,"x":200,"y":0.42},{"s":6,"x":250,"y":0.37},{"s":6,"x":300,"y":0.32},{"s":6,"x":400,"y":0.23},{"s":6,"x":500,"y":0.15},{"s":6,"x":700,"y":0.06},{"s":6,"x":1000,"y":0.01},
{"s":3,"x":50,"y":0.3},{"s":3,"x":100,"y":0.35},{"s":3,"x":150,"y":0.38},{"s":3,"x":200,"y":0.37},{"s":3,"x":250,"y":0.34},{"s":3,"x":300,"y":0.3},{"s":3,"x":400,"y":0.22},{"s":3,"x":500,"y":0.15},{"s":3,"x":700,"y":0.06},{"s":3,"x":1000,"y":0.01},
{"s":2,"x":50,"y":0.25},{"s":2,"x":100,"y":0.3},{"s":2,"x":150,"y":0.32},{"s":2,"x":200,"y":0.33},{"s":2,"x":250,"y":0.31},{"s":2,"x":300,"y":0.29},{"s":2,"x":400,"y":0.22},{"s":2,"x":500,"y":0.15},{"s":2,"x":700,"y":0.07},{"s":2,"x":1000,"y":0.02},
{"s":9,"x":50,"y":0.35},{"s":9,"x":100,"y":0.38},{"s":9,"x":150,"y":0.38},{"s":9,"x":200,"y":0.36},{"s":9,"x":250,"y":0.33},{"s":9,"x":300,"y":0.29},{"s":9,"x":400,"y":0.21},{"s":9,"x":500,"y":0.14},{"s":9,"x":700,"y":0.06},{"s":9,"x":1000,"y":0.01},
{"s":8,"x":50,"y":0.2},{"s":8,"x":100,"y":0.24},{"s":8,"x":150,"y":0.27},{"s":8,"x":200,"y":0.27},{"s":8,"x":250,"y":0.25},{"s":8,"x":300,"y":0.23},{"s":8,"x":400,"y":0.17},{"s":8,"x":500,"y":0.12},{"s":8,"x":700,"y":0.05},{"s":8,"x":1000,"y":0},
{"s":7,"x":50,"y":0.1},{"s":7,"x":100,"y":0.12},{"s":7,"x":150,"y":0.13},{"s":7,"x":200,"y":0.13},{"s":7,"x":250,"y":0.12},{"s":7,"x":300,"y":0.11},{"s":7,"x":400,"y":0.08},{"s":7,"x":500,"y":0.05},{"s":7,"x":700,"y":0.01},{"s":7,"x":1000,"y":-0.01},
{"s":11,"x":50,"y":0.28},{"s":11,"x":100,"y":0.32},{"s":11,"x":150,"y":0.34},{"s":11,"x":200,"y":0.33},{"s":11,"x":250,"y":0.3},{"s":11,"x":300,"y":0.27},{"s":11,"x":400,"y":0.2},{"s":11,"x":500,"y":0.14},{"s":11,"x":700,"y":0.06},{"s":11,"x":1000,"y":0.01},
{"s":14,"x":50,"y":0.15},{"s":14,"x":100,"y":0.18},{"s":14,"x":150,"y":0.2},{"s":14,"x":200,"y":0.2},{"s":14,"x":250,"y":0.19},{"s":14,"x":300,"y":0.17},{"s":14,"x":400,"y":0.13},{"s":14,"x":500,"y":0.09},{"s":14,"x":700,"y":0.04},{"s":14,"x":1000,"y":0},
{"s":20,"x":50,"y":0.06},{"s":20,"x":100,"y":0.08},{"s":20,"x":150,"y":0.09},{"s":20,"x":200,"y":0.09},{"s":20,"x":250,"y":0.08},{"s":20,"x":300,"y":0.07},{"s":20,"x":400,"y":0.05},{"s":20,"x":500,"y":0.03},{"s":20,"x":700,"y":0.01},{"s":20,"x":1000,"y":-0.01},
{"s":13,"x":50,"y":0.18},{"s":13,"x":100,"y":0.22},{"s":13,"x":150,"y":0.24},{"s":13,"x":200,"y":0.25},{"s":13,"x":250,"y":0.24},{"s":13,"x":300,"y":0.22},{"s":13,"x":400,"y":0.17},{"s":13,"x":500,"y":0.12},{"s":13,"x":700,"y":0.05},{"s":13,"x":1000,"y":0},
{"s":16,"x":50,"y":0.12},{"s":16,"x":100,"y":0.14},{"s":16,"x":150,"y":0.16},{"s":16,"x":200,"y":0.16},{"s":16,"x":250,"y":0.15},{"s":16,"x":300,"y":0.14},{"s":16,"x":400,"y":0.11},{"s":16,"x":500,"y":0.08},{"s":16,"x":700,"y":0.03},{"s":16,"x":1000,"y":0},
{"s":12,"x":50,"y":0.38},{"s":12,"x":100,"y":0.4},{"s":12,"x":150,"y":0.42},{"s":12,"x":200,"y":0.4},{"s":12,"x":250,"y":0.36},{"s":12,"x":300,"y":0.33},{"s":12,"x":400,"y":0.27},{"s":12,"x":500,"y":0.2},{"s":12,"x":700,"y":0.08},{"s":12,"x":1000,"y":0.02},
{"s":19,"x":50,"y":0.08},{"s":19,"x":100,"y":0.1},{"s":19,"x":150,"y":0.11},{"s":19,"x":200,"y":0.1},{"s":19,"x":250,"y":0.09},{"s":19,"x":300,"y":0.08},{"s":19,"x":400,"y":0.06},{"s":19,"x":500,"y":0.04},{"s":19,"x":700,"y":0.01},{"s":19,"x":1000,"y":-0.02},
{"s":18,"x":50,"y":0.44},{"s":18,"x":100,"y":0.47},{"s":18,"x":150,"y":0.47},{"s":18,"x":200,"y":0.44},{"s":18,"x":250,"y":0.4},{"s":18,"x":300,"y":0.36},{"s":18,"x":400,"y":0.27},{"s":18,"x":500,"y":0.19},{"s":18,"x":700,"y":0.08},{"s":18,"x":1000,"y":0.02},
{"s":17,"x":50,"y":0.22},{"s":17,"x":100,"y":0.25},{"s":17,"x":150,"y":0.27},{"s":17,"x":200,"y":0.28},{"s":17,"x":250,"y":0.27},{"s":17,"x":300,"y":0.25},{"s":17,"x":400,"y":0.19},{"s":17,"x":500,"y":0.13},{"s":17,"x":700,"y":0.05},{"s":17,"x":1000,"y":0},
{"s":4,"x":50,"y":0.47},{"s":4,"x":100,"y":0.5},{"s":4,"x":150,"y":0.52},{"s":4,"x":200,"y":0.5},{"s":4,"x":250,"y":0.45},{"s":4,"x":300,"y":0.42},{"s":4,"x":400,"y":0.33},{"s":4,"x":500,"y":0.22},{"s":4,"x":700,"y":0.1},{"s":4,"x":1000,"y":0.03},
{"s":10,"x":50,"y":0.45},{"s":10,"x":100,"y":0.48},{"s":10,"x":150,"y":0.5},{"s":10,"x":200,"y":0.51},{"s":10,"x":250,"y":0.51},{"s":10,"x":300,"y":0.5},{"s":10,"x":400,"y":0.4},{"s":10,"x":500,"y":0.28},{"s":10,"x":700,"y":0.12},{"s":10,"x":1000,"y":0.03},
{"s":1,"x":50,"y":0.5},{"s":1,"x":100,"y":0.55},{"s":1,"x":150,"y":0.58},{"s":1,"x":200,"y":0.55},{"s":1,"x":250,"y":0.5},{"s":1,"x":300,"y":0.45},{"s":1,"x":400,"y":0.35},{"s":1,"x":500,"y":0.25},{"s":1,"x":700,"y":0.11},{"s":1,"x":1000,"y":0.03}
],
"G":[
{"s":15,"x":50,"y":0},{"s":15,"x":500,"y":0},{"s":15,"x":1000,"y":0},
{"s":7,"x":50,"y":0.05},{"s":7,"x":100,"y":0.04},{"s":7,"x":150,"y":0.04},{"s":7,"x":200,"y":0.03},{"s":7,"x":250,"y":0.03},{"s":7,"x":300,"y":0.02},{"s":7,"x":400,"y":0.01},{"s":7,"x":500,"y":0},{"s":7,"x":700,"y":-0.02},{"s":7,"x":1000,"y":-0.04},
{"s":3,"x":50,"y":0.3},{"s":3,"x":100,"y":0.32},{"s":3,"x":150,"y":0.34},{"s":3,"x":200,"y":0.34},{"s":3,"x":250,"y":0.33},{"s":3,"x":300,"y":0.31},{"s":3,"x":400,"y":0.27},{"s":3,"x":500,"y":0.22},{"s":3,"x":700,"y":0.13},{"s":3,"x":1000,"y":0.04},
{"s":9,"x":50,"y":0.25},{"s":9,"x":100,"y":0.28},{"s":9,"x":150,"y":0.3},{"s":9,"x":200,"y":0.31},{"s":9,"x":250,"y":0.3},{"s":9,"x":300,"y":0.29},{"s":9,"x":400,"y":0.25},{"s":9,"x":500,"y":0.2},{"s":9,"x":700,"y":0.12},{"s":9,"x":1000,"y":0.05},
{"s":8,"x":50,"y":0.2},{"s":8,"x":100,"y":0.22},{"s":8,"x":150,"y":0.24},{"s":8,"x":200,"y":0.25},{"s":8,"x":250,"y":0.25},{"s":8,"x":300,"y":0.24},{"s":8,"x":400,"y":0.21},{"s":8,"x":500,"y":0.17},{"s":8,"x":700,"y":0.1},{"s":8,"x":1000,"y":0.03},
{"s":10,"x":50,"y":0.15},{"s":10,"x":100,"y":0.17},{"s":10,"x":150,"y":0.19},{"s":10,"x":200,"y":0.2},{"s":10,"x":250,"y":0.2},{"s":10,"x":300,"y":0.19},{"s":10,"x":400,"y":0.17},{"s":10,"x":500,"y":0.14},{"s":10,"x":700,"y":0.07},{"s":10,"x":1000,"y":0},
{"s":11,"x":50,"y":0.1},{"s":11,"x":100,"y":0.12},{"s":11,"x":150,"y":0.13},{"s":11,"x":200,"y":0.14},{"s":11,"x":250,"y":0.14},{"s":11,"x":300,"y":0.13},{"s":11,"x":400,"y":0.11},{"s":11,"x":500,"y":0.08},{"s":11,"x":700,"y":0.03},{"s":11,"x":1000,"y":-0.02},
{"s":14,"x":50,"y":0.28},{"s":14,"x":100,"y":0.3},{"s":14,"x":150,"y":0.32},{"s":14,"x":200,"y":0.33},{"s":14,"x":250,"y":0.33},{"s":14,"x":300,"y":0.32},{"s":14,"x":400,"y":0.28},{"s":14,"x":500,"y":0.23},{"s":14,"x":700,"y":0.14},{"s":14,"x":1000,"y":0.06},
{"s":12,"x":50,"y":0.18},{"s":12,"x":100,"y":0.2},{"s":12,"x":150,"y":0.22},{"s":12,"x":200,"y":0.24},{"s":12,"x":250,"y":0.26},{"s":12,"x":300,"y":0.27},{"s":12,"x":400,"y":0.26},{"s":12,"x":500,"y":0.22},{"s":12,"x":700,"y":0.13},{"s":12,"x":1000,"y":0.03},
{"s":13,"x":50,"y":0.08},{"s":13,"x":100,"y":0.09},{"s":13,"x":150,"y":0.1},{"s":13,"x":200,"y":0.1},{"s":13,"x":250,"y":0.1},{"s":13,"x":300,"y":0.09},{"s":13,"x":400,"y":0.07},{"s":13,"x":500,"y":0.05},{"s":13,"x":700,"y":0.01},{"s":13,"x":1000,"y":-0.03},
{"s":16,"x":50,"y":0.22},{"s":16,"x":100,"y":0.25},{"s":16,"x":150,"y":0.28},{"s":16,"x":200,"y":0.3},{"s":16,"x":250,"y":0.3},{"s":16,"x":300,"y":0.29},{"s":16,"x":400,"y":0.25},{"s":16,"x":500,"y":0.2},{"s":16,"x":700,"y":0.11},{"s":16,"x":1000,"y":0.03},
{"s":17,"x":50,"y":0.13},{"s":17,"x":100,"y":0.15},{"s":17,"x":150,"y":0.16},{"s":17,"x":200,"y":0.17},{"s":17,"x":250,"y":0.17},{"s":17,"x":300,"y":0.16},{"s":17,"x":400,"y":0.14},{"s":17,"x":500,"y":0.11},{"s":17,"x":700,"y":0.05},{"s":17,"x":1000,"y":0},
{"s":18,"x":50,"y":0.33},{"s":18,"x":100,"y":0.36},{"s":18,"x":150,"y":0.38},{"s":18,"x":200,"y":0.38},{"s":18,"x":250,"y":0.37},{"s":18,"x":300,"y":0.35},{"s":18,"x":400,"y":0.3},{"s":18,"x":500,"y":0.24},{"s":18,"x":700,"y":0.14},{"s":18,"x":1000,"y":0.05},
{"s":19,"x":50,"y":0.38},{"s":19,"x":100,"y":0.4},{"s":19,"x":150,"y":0.42},{"s":19,"x":200,"y":0.42},{"s":19,"x":250,"y":0.41},{"s":19,"x":300,"y":0.38},{"s":19,"x":400,"y":0.32},{"s":19,"x":500,"y":0.25},{"s":19,"x":700,"y":0.15},{"s":19,"x":1000,"y":0.06},
{"s":6,"x":50,"y":0.35},{"s":6,"x":100,"y":0.38},{"s":6,"x":150,"y":0.4},{"s":6,"x":200,"y":0.4},{"s":6,"x":250,"y":0.39},{"s":6,"x":300,"y":0.37},{"s":6,"x":400,"y":0.32},{"s":6,"x":500,"y":0.26},{"s":6,"x":700,"y":0.17},{"s":6,"x":1000,"y":0.1},
{"s":2,"x":50,"y":0.4},{"s":2,"x":100,"y":0.42},{"s":2,"x":150,"y":0.43},{"s":2,"x":200,"y":0.42},{"s":2,"x":250,"y":0.4},{"s":2,"x":300,"y":0.37},{"s":2,"x":400,"y":0.3},{"s":2,"x":500,"y":0.24},{"s":2,"x":700,"y":0.14},{"s":2,"x":1000,"y":0.05},
{"s":20,"x":50,"y":0.42},{"s":20,"x":100,"y":0.46},{"s":20,"x":150,"y":0.47},{"s":20,"x":200,"y":0.46},{"s":20,"x":250,"y":0.44},{"s":20,"x":300,"y":0.41},{"s":20,"x":400,"y":0.34},{"s":20,"x":500,"y":0.27},{"s":20,"x":700,"y":0.16},{"s":20,"x":1000,"y":0.07},
{"s":5,"x":50,"y":0.46},{"s":5,"x":100,"y":0.48},{"s":5,"x":150,"y":0.48},{"s":5,"x":200,"y":0.47},{"s":5,"x":250,"y":0.45},{"s":5,"x":300,"y":0.42},{"s":5,"x":400,"y":0.35},{"s":5,"x":500,"y":0.27},{"s":5,"x":700,"y":0.15},{"s":5,"x":1000,"y":0.06},
{"s":4,"x":50,"y":0.5},{"s":4,"x":100,"y":0.5},{"s":4,"x":150,"y":0.49},{"s":4,"x":200,"y":0.47},{"s":4,"x":250,"y":0.45},{"s":4,"x":300,"y":0.42},{"s":4,"x":400,"y":0.35},{"s":4,"x":500,"y":0.28},{"s":4,"x":700,"y":0.17},{"s":4,"x":1000,"y":0.08},
{"s":1,"x":50,"y":0.45},{"s":1,"x":100,"y":0.54},{"s":1,"x":150,"y":0.56},{"s":1,"x":200,"y":0.54},{"s":1,"x":250,"y":0.5},{"s":1,"x":300,"y":0.46},{"s":1,"x":400,"y":0.37},{"s":1,"x":500,"y":0.28},{"s":1,"x":700,"y":0.16},{"s":1,"x":1000,"y":0.07}
],
"H":[
{"s":16,"x":50,"y":-0.11},{"s":16,"x":200,"y":-0.09},{"s":16,"x":350,"y":-0.08},{"s":16,"x":500,"y":-0.08},{"s":16,"x":650,"y":-0.08},{"s":16,"x":800,"y":-0.09},{"s":16,"x":1000,"y":-0.1},
{"s":12,"x":50,"y":-0.06},{"s":12,"x":200,"y":-0.04},{"s":12,"x":350,"y":-0.03},{"s":12,"x":500,"y":-0.03},{"s":12,"x":650,"y":-0.05},{"s":12,"x":800,"y":-0.08},{"s":12,"x":1000,"y":-0.12},
{"s":19,"x":50,"y":-0.04},{"s":19,"x":200,"y":-0.01},{"s":19,"x":350,"y":0.02},{"s":19,"x":500,"y":0.04},{"s":19,"x":650,"y":0.04},{"s":19,"x":800,"y":0.02},{"s":19,"x":1000,"y":-0.01},
{"s":14,"x":50,"y":-0.02},{"s":14,"x":200,"y":0.02},{"s":14,"x":350,"y":0.06},{"s":14,"x":500,"y":0.1},{"s":14,"x":650,"y":0.1},{"s":14,"x":800,"y":0.07},{"s":14,"x":1000,"y":0.04},
{"s":10,"x":50,"y":0},{"s":10,"x":200,"y":0.03},{"s":10,"x":350,"y":0.05},{"s":10,"x":500,"y":0.06},{"s":10,"x":650,"y":0.05},{"s":10,"x":800,"y":0.03},{"s":10,"x":1000,"y":0},
{"s":13,"x":50,"y":0.02},{"s":13,"x":200,"y":0.05},{"s":13,"x":350,"y":0.08},{"s":13,"x":500,"y":0.1},{"s":13,"x":650,"y":0.09},{"s":13,"x":800,"y":0.06},{"s":13,"x":1000,"y":0.03},
{"s":8,"x":50,"y":0.05},{"s":8,"x":200,"y":0.07},{"s":8,"x":350,"y":0.09},{"s":8,"x":500,"y":0.1},{"s":8,"x":650,"y":0.1},{"s":8,"x":800,"y":0.08},{"s":8,"x":1000,"y":0.05},
{"s":15,"x":50,"y":0.07},{"s":15,"x":200,"y":0.1},{"s":15,"x":350,"y":0.13},{"s":15,"x":500,"y":0.15},{"s":15,"x":650,"y":0.14},{"s":15,"x":800,"y":0.12},{"s":15,"x":1000,"y":0.09},
{"s":9,"x":50,"y":0.08},{"s":9,"x":200,"y":0.1},{"s":9,"x":350,"y":0.12},{"s":9,"x":500,"y":0.14},{"s":9,"x":650,"y":0.13},{"s":9,"x":800,"y":0.11},{"s":9,"x":1000,"y":0.08},
{"s":3,"x":50,"y":0.1},{"s":3,"x":200,"y":0.13},{"s":3,"x":350,"y":0.16},{"s":3,"x":500,"y":0.18},{"s":3,"x":650,"y":0.17},{"s":3,"x":800,"y":0.14},{"s":3,"x":1000,"y":0.1},
{"s":21,"x":50,"y":0.06},{"s":21,"x":200,"y":0.09},{"s":21,"x":350,"y":0.13},{"s":21,"x":500,"y":0.17},{"s":21,"x":650,"y":0.18},{"s":21,"x":800,"y":0.15},{"s":21,"x":1000,"y":0.1},
{"s":7,"x":50,"y":0.12},{"s":7,"x":200,"y":0.14},{"s":7,"x":350,"y":0.17},{"s":7,"x":500,"y":0.2},{"s":7,"x":650,"y":0.2},{"s":7,"x":800,"y":0.17},{"s":7,"x":1000,"y":0.14},
{"s":2,"x":50,"y":0.15},{"s":2,"x":200,"y":0.18},{"s":2,"x":350,"y":0.2},{"s":2,"x":500,"y":0.22},{"s":2,"x":650,"y":0.2},{"s":2,"x":800,"y":0.17},{"s":2,"x":1000,"y":0.12},
{"s":17,"x":50,"y":0.17},{"s":17,"x":200,"y":0.19},{"s":17,"x":350,"y":0.21},{"s":17,"x":500,"y":0.22},{"s":17,"x":650,"y":0.21},{"s":17,"x":800,"y":0.19},{"s":17,"x":1000,"y":0.16},
{"s":20,"x":50,"y":0.1},{"s":20,"x":200,"y":0.15},{"s":20,"x":350,"y":0.2},{"s":20,"x":500,"y":0.23},{"s":20,"x":650,"y":0.22},{"s":20,"x":800,"y":0.18},{"s":20,"x":1000,"y":0.14},
{"s":18,"x":50,"y":0.14},{"s":18,"x":200,"y":0.17},{"s":18,"x":350,"y":0.22},{"s":18,"x":500,"y":0.25},{"s":18,"x":650,"y":0.23},{"s":18,"x":800,"y":0.18},{"s":18,"x":1000,"y":0.11},
{"s":1,"x":50,"y":0.18},{"s":1,"x":200,"y":0.22},{"s":1,"x":350,"y":0.25},{"s":1,"x":500,"y":0.26},{"s":1,"x":650,"y":0.24},{"s":1,"x":800,"y":0.2},{"s":1,"x":1000,"y":0.15},
{"s":11,"x":50,"y":0.2},{"s":11,"x":200,"y":0.24},{"s":11,"x":350,"y":0.27},{"s":11,"x":500,"y":0.28},{"s":11,"x":650,"y":0.26},{"s":11,"x":800,"y":0.2},{"s":11,"x":1000,"y":0.12},
{"s":6,"x":50,"y":0.23},{"s":6,"x":200,"y":0.27},{"s":6,"x":350,"y":0.26},{"s":6,"x":500,"y":0.24},{"s":6,"x":650,"y":0.2},{"s":6,"x":800,"y":0.15},{"s":6,"x":1000,"y":0.1},
{"s":24,"x":50,"y":0.15},{"s":24,"x":200,"y":0.22},{"s":24,"x":350,"y":0.3},{"s":24,"x":500,"y":0.33},{"s":24,"x":650,"y":0.34},{"s":24,"x":800,"y":0.31},{"s":24,"x":1000,"y":0.2},
{"s":4,"x":50,"y":0.05},{"s":4,"x":200,"y":0.15},{"s":4,"x":350,"y":0.28},{"s":4,"x":500,"y":0.35},{"s":4,"x":650,"y":0.36},{"s":4,"x":800,"y":0.32},{"s":4,"x":1000,"y":0.25},
{"s":5,"x":50,"y":0.12},{"s":5,"x":200,"y":0.2},{"s":5,"x":350,"y":0.3},{"s":5,"x":500,"y":0.39},{"s":5,"x":650,"y":0.4},{"s":5,"x":800,"y":0.35},{"s":5,"x":1000,"y":0.22}
]
},
"vconcat":[
{"hconcat":[
{"width":132,"height":98,"title":"σ = 0.0","data":{"name":"A"},"mark":{"type":"line","interpolate":"linear","clip":true},
"encoding":{"x":{"field":"x","type":"quantitative","scale":{"domain":[2.5,1047.5],"nice":false,"zero":false},"axis":{"values":[500,1000],"format":"d","title":"Training iterations"}},
"y":{"field":"y","type":"quantitative","scale":{"domain":[-0.18,0.66],"nice":false,"zero":false},"axis":{"values":[0,0.25,0.5],"format":".2f","title":"Regret"}},
"color":{"field":"s","type":"nominal","scale":{"domain":[1,2,3,4,5,6,7,8,9,10,11,12,13,14,15,16,17,18,19,20,21,22,23,24,25,26,27,28,29,30],"range":["#D55E00","#0072B2","#009E73","#F0D000","#CC79A7","#F6A5D5","#56B4E9","#E69F00","#999999","#C8894F","#D55E00","#0072B2","#009E73","#F0D000","#CC79A7","#F6A5D5","#56B4E9","#E69F00","#999999","#C8894F","#D55E00","#0072B2","#009E73","#F0D000","#CC79A7","#F6A5D5","#56B4E9","#E69F00","#999999","#C8894F"]},"legend":null}}},
{"width":132,"height":98,"title":"σ = 0.03","data":{"name":"B"},"mark":{"type":"line","interpolate":"monotone","clip":true},
"encoding":{"x":{"field":"x","type":"quantitative","scale":{"domain":[2.5,1047.5],"nice":false,"zero":false},"axis":{"values":[500,1000],"format":"d","title":"Training iterations"}},
"y":{"field":"y","type":"quantitative","scale":{"domain":[-0.18,0.66],"nice":false,"zero":false},"axis":{"values":[0,0.25,0.5],"labels":false,"title":null}},
"color":{"field":"s","type":"nominal","legend":null}}},
{"width":132,"height":98,"title":"σ = 0.05","data":{"name":"C"},"mark":{"type":"line","interpolate":"monotone","clip":true},
"encoding":{"x":{"field":"x","type":"quantitative","scale":{"domain":[2.5,1047.5],"nice":false,"zero":false},"axis":{"values":[500,1000],"format":"d","title":"Training iterations"}},
"y":{"field":"y","type":"quantitative","scale":{"domain":[-0.18,0.66],"nice":false,"zero":false},"axis":{"values":[0,0.25,0.5],"labels":false,"title":null}},
"color":{"field":"s","type":"nominal","legend":null}}},
{"width":132,"height":98,"title":"σ = 0.09","data":{"name":"D"},
"layer":[
{"mark":{"type":"line","interpolate":"monotone","clip":true},
"encoding":{"x":{"field":"x","type":"quantitative","scale":{"domain":[2.5,1047.5],"nice":false,"zero":false},"axis":{"values":[500,1000],"format":"d","title":"Training iterations"}},
"y":{"field":"y","type":"quantitative","scale":{"domain":[-0.18,0.66],"nice":false,"zero":false},"axis":{"values":[0,0.25,0.5],"labels":false,"title":null}},
"color":{"field":"s","type":"nominal","legend":null}}},
{"mark":{"type":"line","opacity":0},
"encoding":{"x":{"field":"x","type":"quantitative","scale":{"domain":[2.5,1047.5],"nice":false,"zero":false},"axis":{"values":[500,1000],"format":"d","title":"Training iterations"}},
"y":{"field":"y","type":"quantitative","scale":{"domain":[-0.18,0.66],"nice":false,"zero":false},"axis":{"orient":"right","labels":false,"ticks":false,"domain":false,"tickSize":0,"labelPadding":0,"title":"misreporting","titlePadding":0}},
"detail":{"field":"s","type":"nominal"}}}
],
"resolve":{"axis":{"y":"independent"}}}
],"spacing":10,"resolve":{"scale":{"x":"independent","y":"independent"}}},
{"hconcat":[
{"width":132,"height":98,"title":{"text":"σ = 0.0","offset":0},"data":{"name":"E"},"mark":{"type":"line","interpolate":"linear","clip":true},
"encoding":{"x":{"field":"x","type":"quantitative","scale":{"domain":[2.5,1047.5],"nice":false,"zero":false},"axis":{"values":[500,1000],"format":"d","title":"Training iterations"}},
"y":{"field":"y","type":"quantitative","scale":{"domain":[-0.155,0.616],"nice":false,"zero":false},"axis":{"values":[0,0.2,0.4,0.6],"format":".1f","title":"Regret"}},
"color":{"field":"s","type":"nominal","legend":null}}},
{"width":132,"height":98,"title":"σ = 0.03","data":{"name":"F"},"mark":{"type":"line","interpolate":"monotone","clip":true},
"encoding":{"x":{"field":"x","type":"quantitative","scale":{"domain":[2.5,1047.5],"nice":false,"zero":false},"axis":{"values":[500,1000],"format":"d","title":"Training iterations"}},
"y":{"field":"y","type":"quantitative","scale":{"domain":[-0.155,0.616],"nice":false,"zero":false},"axis":{"values":[0,0.2,0.4,0.6],"labels":false,"title":null}},
"color":{"field":"s","type":"nominal","legend":null}}},
{"width":132,"height":98,"title":"σ = 0.05","data":{"name":"G"},"mark":{"type":"line","interpolate":"monotone","clip":true},
"encoding":{"x":{"field":"x","type":"quantitative","scale":{"domain":[2.5,1047.5],"nice":false,"zero":false},"axis":{"values":[500,1000],"format":"d","title":"Training iterations"}},
"y":{"field":"y","type":"quantitative","scale":{"domain":[-0.155,0.616],"nice":false,"zero":false},"axis":{"values":[0,0.2,0.4,0.6],"labels":false,"title":null}},
"color":{"field":"s","type":"nominal","legend":null}}},
{"width":132,"height":98,"title":"σ = 0.09","data":{"name":"H"},
"layer":[
{"mark":{"type":"line","interpolate":"monotone","clip":true},
"encoding":{"x":{"field":"x","type":"quantitative","scale":{"domain":[2.5,1047.5],"nice":false,"zero":false},"axis":{"values":[500,1000],"format":"d","title":"Training iterations"}},
"y":{"field":"y","type":"quantitative","scale":{"domain":[-0.155,0.616],"nice":false,"zero":false},"axis":{"values":[0,0.2,0.4,0.6],"labels":false,"title":null}},
"color":{"field":"s","type":"nominal","legend":null}}},
{"mark":{"type":"line","opacity":0},
"encoding":{"x":{"field":"x","type":"quantitative","scale":{"domain":[2.5,1047.5],"nice":false,"zero":false},"axis":{"values":[500,1000],"format":"d","title":"Training iterations"}},
"y":{"field":"y","type":"quantitative","scale":{"domain":[-0.155,0.616],"nice":false,"zero":false},"axis":{"orient":"right","labels":false,"ticks":false,"domain":false,"tickSize":0,"labelPadding":0,"title":"truthfully reporting","titlePadding":0}},
"detail":{"field":"s","type":"nominal"}}}
],
"resolve":{"axis":{"y":"independent"}}}
],"spacing":10,"resolve":{"scale":{"x":"independent","y":"independent"}}}
],
"spacing":13,
"resolve":{"scale":{"x":"independent","y":"independent"}}
}
